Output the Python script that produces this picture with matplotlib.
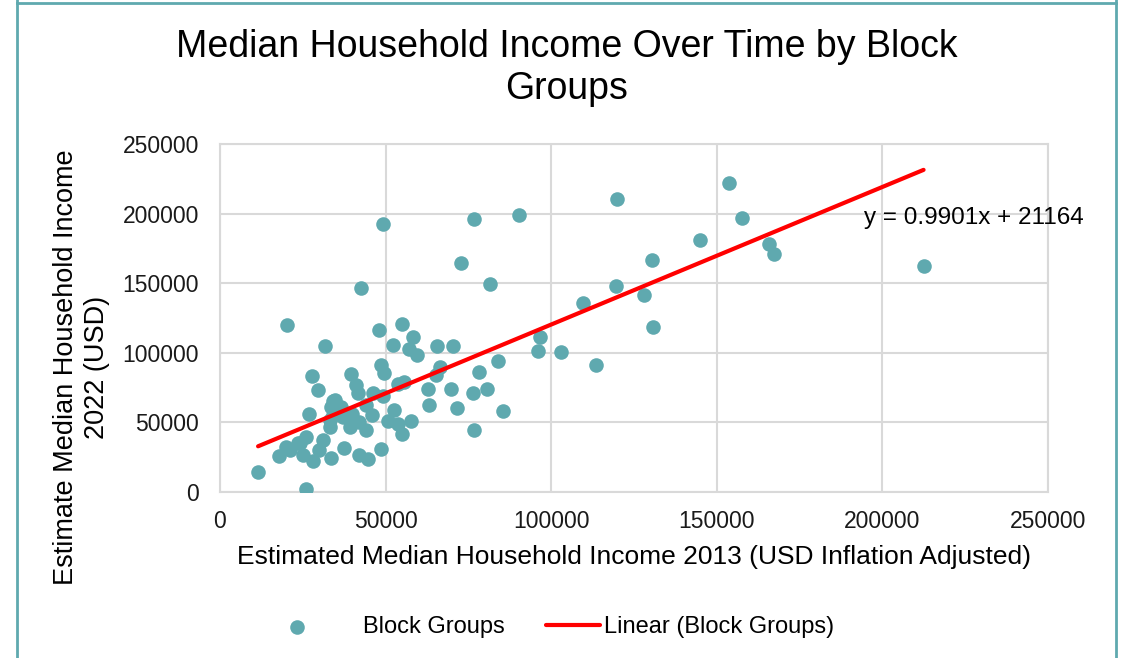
import matplotlib
matplotlib.use("Agg")
import matplotlib.pyplot as plt
from matplotlib.lines import Line2D
import numpy as np

plt.rcParams['font.family'] = ['Liberation Sans', 'DejaVu Sans']

# Block group medians: 2013 (inflation adjusted) vs 2022, USD
income_2013 = [
    11500, 26100, 20100, 31700, 42600, 49300, 76600, 72800, 81400, 90400,
    119900, 119600, 109500, 127900, 130800, 96600, 96000, 102800, 113500, 84000,
    78200, 80600, 76300, 85500, 76600, 69600, 71400, 63100, 62700, 70200,
    65600, 66400, 65300, 58200, 57100, 59500, 54800, 55500, 57700, 55000,
    153600, 157600, 144900, 165700, 167200, 212400, 130500, 48000, 52300, 27800,
    29700, 39600, 41000, 41700, 48600, 49600, 34000, 33500, 36600, 46200,
    49300, 53700, 26800, 33300, 45900, 52500, 50700, 53800, 48600, 44600,
    41900, 37500, 33600, 28200, 25000, 17800, 21100, 23400, 31100, 26100,
    24100, 33100, 34100, 34700, 35700, 44200, 37200, 39200, 44200, 40000,
    42000, 30000, 20000,
]
income_2022 = [
    14200, 2100, 119800, 104700, 146400, 192700, 196000, 164200, 149300, 198900,
    210200, 147800, 135400, 141200, 118100, 111400, 101100, 100100, 90800, 93800,
    86200, 73700, 71000, 58000, 44200, 73900, 60000, 62500, 73800, 105000,
    104700, 89600, 83500, 111400, 102300, 98200, 120700, 78800, 50600, 41500,
    221700, 197000, 180900, 178100, 171100, 162000, 166500, 116400, 105700, 83100,
    73000, 84600, 76300, 71200, 91000, 85600, 64800, 61000, 61000, 70600,
    68800, 77500, 55800, 51400, 55000, 58600, 51000, 48900, 30800, 23300,
    26000, 31600, 23900, 22300, 26300, 25700, 29900, 34900, 37000, 39400,
    34700, 46600, 55000, 65800, 58600, 44200, 53800, 46600, 62200, 56000,
    50000, 30000, 32000,
]

# Linear trendline coefficients
slope = 0.9901
intercept = 21164

teal = '#5fa9af'
grid_gray = '#d9d9d9'

fig = plt.figure(figsize=(11.27, 6.58), dpi=100)
ax = fig.add_axes([0.1952, 0.253, 0.7348, 0.528])

pts = ax.scatter(income_2013, income_2022, s=110, color=teal, zorder=3,
                 linewidths=0)

x_fit = np.array([min(income_2013), max(income_2013)])
trend, = ax.plot(x_fit, slope * x_fit + intercept, color='red', lw=3, zorder=4,
                 solid_capstyle='round')

ax.set_xlim(0, 250000)
ax.set_ylim(0, 250000)
ax.set_xticks(np.arange(0, 250001, 50000))
ax.set_yticks(np.arange(0, 250001, 50000))
ax.tick_params(length=0, labelsize=16.5, colors='#1a1a1a')
ax.tick_params(axis='y', pad=15)
ax.tick_params(axis='x', pad=13)
ax.grid(True, color=grid_gray, lw=1.5, zorder=0)
ax.set_axisbelow(True)
for sp in ax.spines.values():
    sp.set_color(grid_gray)
    sp.set_linewidth(1.5)

ax.set_xlabel('Estimated Median Household Income 2013 (USD Inflation Adjusted)',
              fontsize=19, labelpad=9)
# y title sits a bit lower than the plot's middle
fig.text(82 / 1127, 1 - 367 / 658, 'Estimate Median Household Income\n2022 (USD)',
         fontsize=19.5, rotation=90, ha='center', va='center',
         multialignment='center', linespacing=1.25)

ax.text(194500, 196800, f'y = {slope}x + {intercept}', fontsize=17.5,
        va='center', ha='left', clip_on=False)

fig.text(0.503, 1 - 68 / 658, 'Median Household Income Over Time by Block\nGroups',
         fontsize=27, ha='center', va='center', linespacing=1.23)

# legend entries laid out separately, like the spreadsheet legend
fs = 17
fig.legend([pts], ['Block Groups'], loc='center left',
           bbox_to_anchor=(273 / 1127, 1 - 627 / 658), frameon=False,
           fontsize=fs, handlelength=2.0, handletextpad=1.8, borderpad=0,
           borderaxespad=0, markerscale=1.0)
fig.legend([trend], ['Linear (Block Groups)'], loc='center left',
           bbox_to_anchor=(546 / 1127, 1 - 627 / 658), frameon=False,
           fontsize=fs, handlelength=2.29, handletextpad=0.15, borderpad=0,
           borderaxespad=0)

# teal frame around the chart area
for xs, ys in [([17, 17], [0, 658]), ([1116, 1116], [0, 658]), ([17, 1116], [655, 655])]:
    fig.add_artist(Line2D(xs, ys, transform=None, color=teal, lw=2))

fig.savefig('out.png', dpi=100)
